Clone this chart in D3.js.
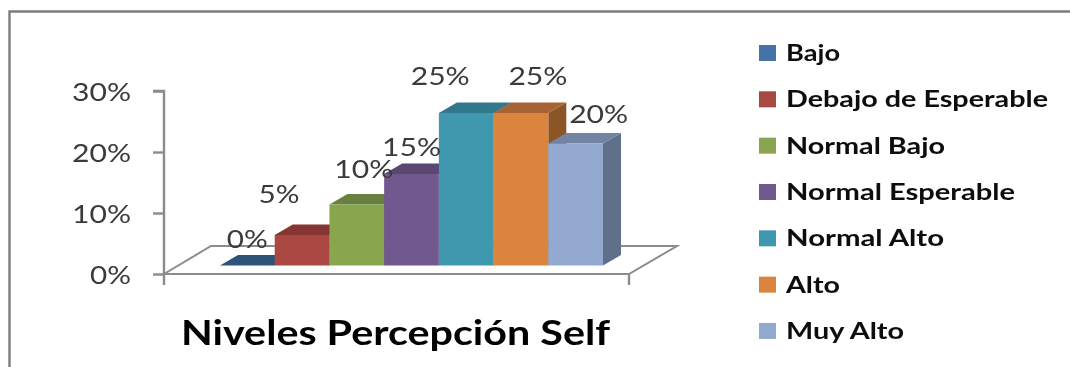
<!DOCTYPE html>
<html><head><meta charset="utf-8">
<style>html,body{margin:0;padding:0;background:#fff}svg{display:block}</style>
<script src="https://cdnjs.cloudflare.com/ajax/libs/d3/7.8.5/d3.min.js"></script>
</head><body>
<svg id="c" width="1070" height="367"></svg>
<script>
const categories = ["Bajo","Debajo de Esperable","Normal Bajo","Normal Esperable","Normal Alto","Alto","Muy Alto"];
const values = [0,5,10,15,25,25,20];
const yTicks = [0,10,20,30];
const colors = ["#4572A7","#AA4643","#89A54E","#71588F","#4198AF","#DB843D","#93A9CF"];
const tops = ["#2f5379","#863633","#6b8040","#5a4672","#31788c","#a86430","#7283a3"];
const sides = ["#2a4a6c","#76302d","#5f7239","#4f3e65","#2b6a7c","#8c5428","#5f6f8b"];
const labelDx = [0,-23,7,0,-26,17,23];
const labelDy = [-27,-41,-36,-27,-37,-37,-30];
const legendW = [54,262,159,229,158,54,118];

const svg = d3.select("#c");
const defs = svg.append("defs");
defs.append("filter").attr("id","b").attr("x","-5%").attr("y","-5%").attr("width","110%").attr("height","110%")
  .append("feGaussianBlur").attr("stdDeviation",0.7);
const root = svg.append("g").attr("filter","url(#b)");

// chart frame
root.append("path").attr("d","M9.5 367V11.5H1075").attr("fill","none").attr("stroke","#7c7c7c").attr("stroke-width",2.4);

const y = d3.scaleLinear().domain([0,30]).range([274,91]);
const x = d3.scaleBand().domain(categories).range([220,603]).padding(0);
const axisX = 164, axisR = 629, floorDX = 47, floorDY = 28, baseY = 265.5, barDX = 18, barDY = 10.5;
const h = v => y(0)-y(v);
const pctWidth = v => v>=10 ? 59 : 41;

// floor
root.append("path")
  .attr("d",`M${axisX} ${y(0)}L${axisX+floorDX} ${y(0)-floorDY}H${axisR+floorDX+1}L${axisR} ${y(0)}Z`)
  .attr("fill","#fff").attr("stroke","#8c8c8c").attr("stroke-width",2);

// value axis
const ax = d3.axisLeft(y).tickValues(yTicks).tickFormat(d=>d+"%").tickSize(11).tickPadding(0);
const ag = root.append("g").attr("transform",`translate(${axisX},0)`).call(ax);
ag.select(".domain").attr("stroke","#8c8c8c").attr("stroke-width",2.4).attr("d",`M-11 ${y(30)}H0V${y(0)+11}`);
ag.selectAll(".tick line").attr("stroke","#8c8c8c").attr("stroke-width",2.4);
ag.selectAll(".tick text")
  .attr("x",-33).attr("dy","0.36em").attr("font-family","Lato").attr("font-size",25).attr("fill","#3a3a3a")
  .attr("text-anchor","end").attr("textLength",d=>pctWidth(d)).attr("lengthAdjust","spacingAndGlyphs");
ag.attr("font-family",null).attr("font-size",null);

// category axis end tick
root.append("path").attr("d",`M${axisR} ${y(0)}v11`).attr("stroke","#8c8c8c").attr("stroke-width",2.4);

// bars
const bars = root.append("g").selectAll("g").data(categories).join("g");
bars.each(function(c,i){
  const g = d3.select(this), l = x(c), w = x.bandwidth(), t = baseY-h(values[i]);
  g.append("path").attr("fill",sides[i])
    .attr("d",`M${l+w} ${baseY}V${t}l${barDX} ${-barDY}V${baseY-barDY}Z`);
  g.append("path").attr("fill",tops[i])
    .attr("d",`M${l} ${t}h${w}l${barDX} ${-barDY}h${-w}Z`);
  if(values[i]>0) g.append("rect").attr("x",l).attr("y",t).attr("width",w).attr("height",h(values[i])).attr("fill",colors[i]);
});

// value labels
root.append("g").selectAll("text").data(categories).join("text")
  .attr("x",(c,i)=>x(c)+x.bandwidth()/2+labelDx[i])
  .attr("y",(c,i)=>baseY-h(values[i])+labelDy[i])
  .attr("dy","0.36em").attr("text-anchor","middle")
  .attr("font-family","Lato").attr("font-size",25).attr("fill","#3a3a3a")
  .attr("textLength",(c,i)=>pctWidth(values[i])).attr("lengthAdjust","spacingAndGlyphs")
  .text((c,i)=>values[i]+"%");

// legend
const ly = d3.scalePoint().domain(categories).range([53,331]);
const lg = root.append("g").selectAll("g").data(categories).join("g");
lg.append("rect").attr("x",759).attr("y",c=>ly(c)-8).attr("width",17).attr("height",16).attr("fill",(c,i)=>colors[i]);
lg.append("text").attr("x",786).attr("y",c=>ly(c)).attr("dy","0.36em")
  .attr("font-family","Lato").attr("font-weight",700).attr("font-size",22).attr("fill","#0c0c0c")
  .attr("textLength",(c,i)=>legendW[i]).attr("lengthAdjust","spacingAndGlyphs").text(c=>c);

// title
root.append("text").attr("x",181).attr("y",333).attr("dy","0.36em")
  .attr("font-family","Lato").attr("font-weight",700).attr("font-size",34).attr("fill","#000")
  .attr("textLength",429).attr("lengthAdjust","spacingAndGlyphs").text("Niveles Percepción Self");
</script>
</body></html>
